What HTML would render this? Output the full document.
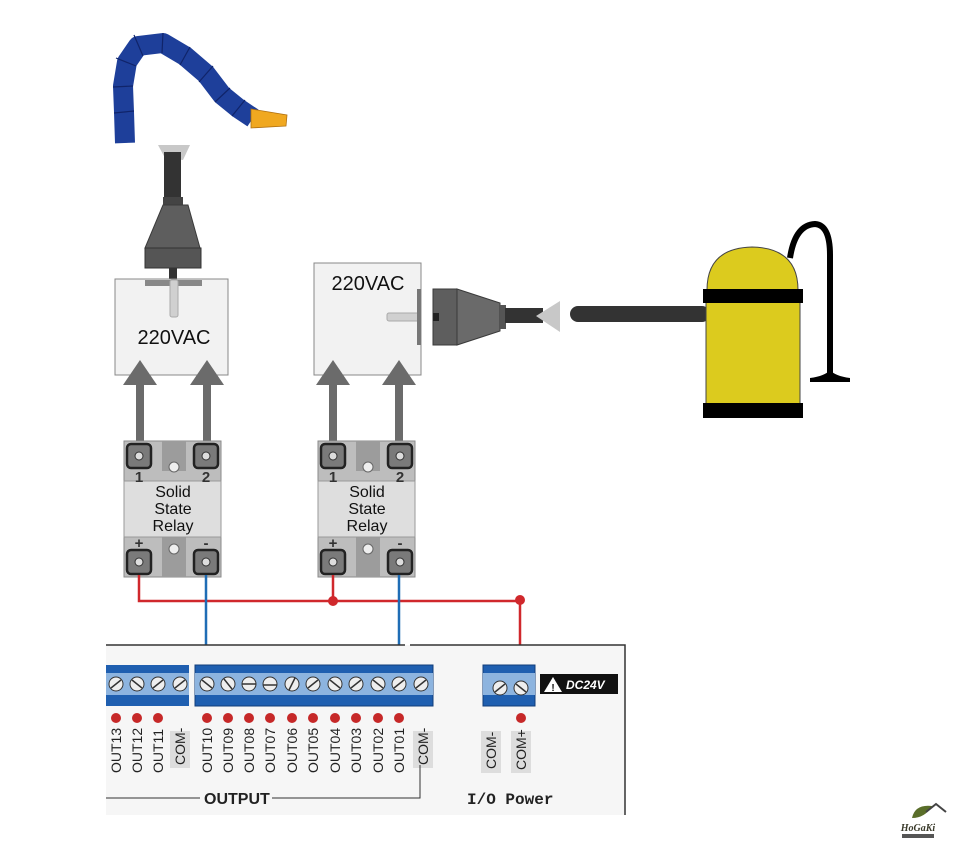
<!DOCTYPE html>
<html><head><meta charset="utf-8"><style>
html,body{margin:0;padding:0;background:#fff;}
svg{display:block;font-family:"Liberation Sans",sans-serif;}
</style></head><body>
<svg width="958" height="853" viewBox="0 0 958 853" xmlns="http://www.w3.org/2000/svg">
<defs>
<g id="relay">
  <rect x="0" y="0" width="97" height="136" fill="#bdbdbd" stroke="#8a8a8a"/>
  <rect x="38" y="0" width="24" height="30" fill="#9c9c9c"/>
  <rect x="38" y="96" width="24" height="40" fill="#9c9c9c"/>
  <circle cx="50" cy="26" r="5" fill="#eee" stroke="#666"/>
  <circle cx="50" cy="108" r="5" fill="#eee" stroke="#666"/>
  <rect x="0" y="40" width="97" height="56" fill="#dedede" stroke="#999"/>
  <g stroke="#222" stroke-width="2.5" fill="#7a7a7a">
    <rect x="3" y="3" width="24" height="24" rx="4"/>
    <rect x="70" y="3" width="24" height="24" rx="4"/>
    <rect x="3" y="109" width="24" height="24" rx="4"/>
    <rect x="70" y="109" width="24" height="24" rx="4"/>
  </g>
  <g fill="#ddd" stroke="#333" stroke-width="1">
    <circle cx="15" cy="15" r="4"/><circle cx="82" cy="15" r="4"/>
    <circle cx="15" cy="121" r="4"/><circle cx="82" cy="121" r="4"/>
  </g>
  <g font-size="15" font-weight="bold" fill="#333" text-anchor="middle">
    <text x="15" y="41">1</text><text x="82" y="41">2</text>
    <text x="15" y="107">+</text><text x="82" y="107">-</text>
  </g>
  <g font-size="16" fill="#111" text-anchor="middle">
    <text x="49" y="56">Solid</text><text x="49" y="73">State</text><text x="49" y="90">Relay</text>
  </g>
</g>
<g id="arrow" fill="#6b6b6b">
  <polygon points="0,0 17,25 -17,25"/>
  <rect x="-4" y="24" width="8" height="57"/>
</g>
</defs>

<!-- nozzle -->
<path d="M125,143 L124,112 L123,86 L127,62 L138,46 L163,43 L185,56 L206,74 L222,95 L238,108 L253,118" fill="none" stroke="#1e3f9a" stroke-width="20" stroke-linejoin="round"/>
<g stroke="#10246a" stroke-width="1.2">
  <path d="M114,113 L134,111 M113,87 L133,86 M116,58 L136,66 M134,35 L143,56 M163,33 L162,53 M190,47 L180,65 M213,66 L199,82 M230,88 L215,102 M245,100 L232,116"/>
</g>
<polygon points="251,109 287,115 286,126 251,128" fill="#f0a820" stroke="#b07010" stroke-width="0.8"/>

<!-- top plug -->
<polygon points="158,145 190,145 183,160 165,158" fill="#c8c8c8"/>
<rect x="164" y="152" width="17" height="46" fill="#333"/>
<rect x="163" y="197" width="20" height="8" fill="#444"/>
<polygon points="163,205 188,205 200,248 145,248" fill="#5e5e5e" stroke="#3a3a3a"/>
<rect x="145" y="248" width="56" height="20" fill="#555" stroke="#333"/>
<rect x="169" y="268" width="8" height="12" fill="#333"/>

<!-- box 1 -->
<rect x="115" y="279" width="113" height="96" fill="#f2f2f2" stroke="#888"/>
<rect x="145" y="280" width="57" height="6" fill="#888"/>
<rect x="170" y="280" width="8" height="37" rx="2" fill="#d0d0d0" stroke="#aaa"/>
<text x="174" y="344" font-size="20" text-anchor="middle" fill="#111">220VAC</text>

<!-- box 2 -->
<rect x="314" y="263" width="107" height="112" fill="#f2f2f2" stroke="#888"/>
<text x="368" y="290" font-size="20" text-anchor="middle" fill="#111">220VAC</text>
<rect x="387" y="313" width="32" height="8" rx="2" fill="#d0d0d0" stroke="#aaa"/>
<rect x="417" y="289" width="4" height="56" fill="#777"/>

<!-- right plug -->
<rect x="433" y="289" width="24" height="56" fill="#5e5e5e" stroke="#3a3a3a"/>
<rect x="433" y="313" width="6" height="8" fill="#222"/>
<polygon points="457,289 500,303 500,331 457,345" fill="#6a6a6a" stroke="#3a3a3a"/>
<rect x="500" y="305" width="6" height="24" fill="#555"/>
<rect x="505" y="308" width="38" height="15" fill="#333"/>
<polygon points="536,316 560,301 560,332" fill="#c8c8c8"/>

<!-- vacuum -->
<rect x="570" y="306" width="140" height="16" rx="8" fill="#333"/>
<path d="M707,290 Q707,248 752,247 Q798,248 798,290 Z" fill="#dccb1e" stroke="#444"/>
<rect x="706" y="290" width="94" height="120" fill="#dccb1e" stroke="#444"/>
<rect x="703" y="289" width="100" height="14" fill="#000"/>
<rect x="703" y="403" width="100" height="15" fill="#000"/>
<path d="M790,258 Q795,225 815,224 Q830,225 830,255 L830,375" fill="none" stroke="#000" stroke-width="6"/>
<path d="M810,382 L850,382 L850,378 Q835,376 830,370 Q825,376 810,378 Z" fill="#000"/>

<!-- arrows -->
<use href="#arrow" x="140" y="360"/>
<use href="#arrow" x="207" y="360"/>
<use href="#arrow" x="333" y="360"/>
<use href="#arrow" x="399" y="360"/>

<!-- relays -->
<use href="#relay" x="124" y="441"/>
<use href="#relay" x="318" y="441"/>

<!-- wires -->
<g fill="none" stroke-width="2.5">
  <path d="M139,575 V601 H520 V680" stroke="#d0282c"/>
  <path d="M333,575 V601" stroke="#d0282c"/>
  <path d="M206,575 V666" stroke="#1f6db5"/>
  <path d="M399,575 V666" stroke="#1f6db5"/>
</g>
<circle cx="333" cy="601" r="5" fill="#d0282c"/>
<circle cx="520" cy="600" r="5" fill="#d0282c"/>

<!-- board -->
<rect x="106" y="645" width="519" height="170" fill="#f6f6f6"/>
<path d="M106,645 H405 M410,645 H625 V815" stroke="#333" stroke-width="1.5" fill="none"/>
<rect x="106" y="665" width="83" height="41" fill="#1f5fb0"/>
<rect x="106" y="673" width="83" height="22" fill="#8db4df"/>
<rect x="195" y="665" width="238" height="41" fill="#1f5fb0" stroke="#123e7a"/>
<rect x="195" y="673" width="238" height="22" fill="#8db4df"/>
<rect x="483" y="665" width="52" height="41" fill="#1f5fb0" stroke="#123e7a"/>
<rect x="483" y="673" width="52" height="22" fill="#8db4df"/>
<g fill="#eee" stroke="#333" stroke-width="1">
  <circle cx="116" cy="684" r="7"/><circle cx="137" cy="684" r="7"/><circle cx="158" cy="684" r="7"/><circle cx="180" cy="684" r="7"/>
  <circle cx="207" cy="684" r="7"/><circle cx="228" cy="684" r="7"/><circle cx="249" cy="684" r="7"/><circle cx="270" cy="684" r="7"/>
  <circle cx="292" cy="684" r="7"/><circle cx="313" cy="684" r="7"/><circle cx="335" cy="684" r="7"/><circle cx="356" cy="684" r="7"/>
  <circle cx="378" cy="684" r="7"/><circle cx="399" cy="684" r="7"/><circle cx="421" cy="684" r="7"/>
  <circle cx="500" cy="688" r="7"/><circle cx="521" cy="688" r="7"/>
</g>
<g stroke="#333" stroke-width="1.5">
  <path d="M111,688 l10,-8 M132,680 l10,8 M153,688 l10,-8 M175,688 l10,-8 M202,680 l10,8 M224,679 l8,10 M242,684 h14 M263,685 h14 M289,690 l6,-12 M308,688 l10,-8 M330,680 l10,8 M351,688 l10,-8 M373,680 l10,8 M394,688 l10,-8 M416,688 l10,-8 M495,692 l10,-8 M516,684 l10,8"/>
</g>
<rect x="540" y="674" width="78" height="20" fill="#111"/>
<polygon points="553,677 562,692 544,692" fill="#fff"/>
<text x="553" y="691" font-size="10" font-weight="bold" text-anchor="middle" fill="#111">!</text>
<text x="566" y="689" font-size="12" font-weight="bold" font-style="italic" fill="#fff">DC24V</text>

<g fill="#c62828">
  <circle cx="116" cy="718" r="5"/><circle cx="137" cy="718" r="5"/><circle cx="158" cy="718" r="5"/>
  <circle cx="207" cy="718" r="5"/><circle cx="228" cy="718" r="5"/><circle cx="249" cy="718" r="5"/><circle cx="270" cy="718" r="5"/>
  <circle cx="292" cy="718" r="5"/><circle cx="313" cy="718" r="5"/><circle cx="335" cy="718" r="5"/><circle cx="356" cy="718" r="5"/>
  <circle cx="378" cy="718" r="5"/><circle cx="399" cy="718" r="5"/><circle cx="521" cy="718" r="5"/>
</g>
<g fill="#ddd">
  <rect x="170" y="731" width="20" height="37"/><rect x="413" y="731" width="20" height="37"/>
  <rect x="481" y="731" width="20" height="42"/><rect x="511" y="731" width="20" height="42"/>
</g>
<g font-size="14" fill="#222">
  <text transform="translate(121,773) rotate(-90)">OUT13</text>
  <text transform="translate(142,773) rotate(-90)">OUT12</text>
  <text transform="translate(163,773) rotate(-90)">OUT11</text>
  <text transform="translate(185,765) rotate(-90)">COM-</text>
  <text transform="translate(212,773) rotate(-90)">OUT10</text>
  <text transform="translate(233,773) rotate(-90)">OUT09</text>
  <text transform="translate(254,773) rotate(-90)">OUT08</text>
  <text transform="translate(275,773) rotate(-90)">OUT07</text>
  <text transform="translate(297,773) rotate(-90)">OUT06</text>
  <text transform="translate(318,773) rotate(-90)">OUT05</text>
  <text transform="translate(340,773) rotate(-90)">OUT04</text>
  <text transform="translate(361,773) rotate(-90)">OUT03</text>
  <text transform="translate(383,773) rotate(-90)">OUT02</text>
  <text transform="translate(404,773) rotate(-90)">OUT01</text>
  <text transform="translate(428,765) rotate(-90)">COM-</text>
  <text transform="translate(496,769) rotate(-90)">COM-</text>
  <text transform="translate(526,770) rotate(-90)">COM+</text>
</g>
<path d="M106,798 H200 M272,798 H420 V765" stroke="#333" stroke-width="1" fill="none"/>
<text x="204" y="804" font-size="16" font-weight="bold" fill="#222">OUTPUT</text>
<text x="467" y="804" font-size="16" font-weight="bold" fill="#222" font-family="Liberation Mono, monospace">I/O Power</text>

<!-- logo -->
<path d="M912,818 Q915,804 932,806 Q925,818 912,818 Z" fill="#5a6e2a"/>
<path d="M926,812 L936,804 L946,812" fill="none" stroke="#444" stroke-width="2"/>
<text x="918" y="831" font-size="10" font-weight="bold" font-style="italic" text-anchor="middle" fill="#3a3a2a" font-family="Liberation Serif, serif">HoGaKi</text>
<rect x="902" y="834" width="32" height="4" fill="#555"/>
</svg>
</body></html>
